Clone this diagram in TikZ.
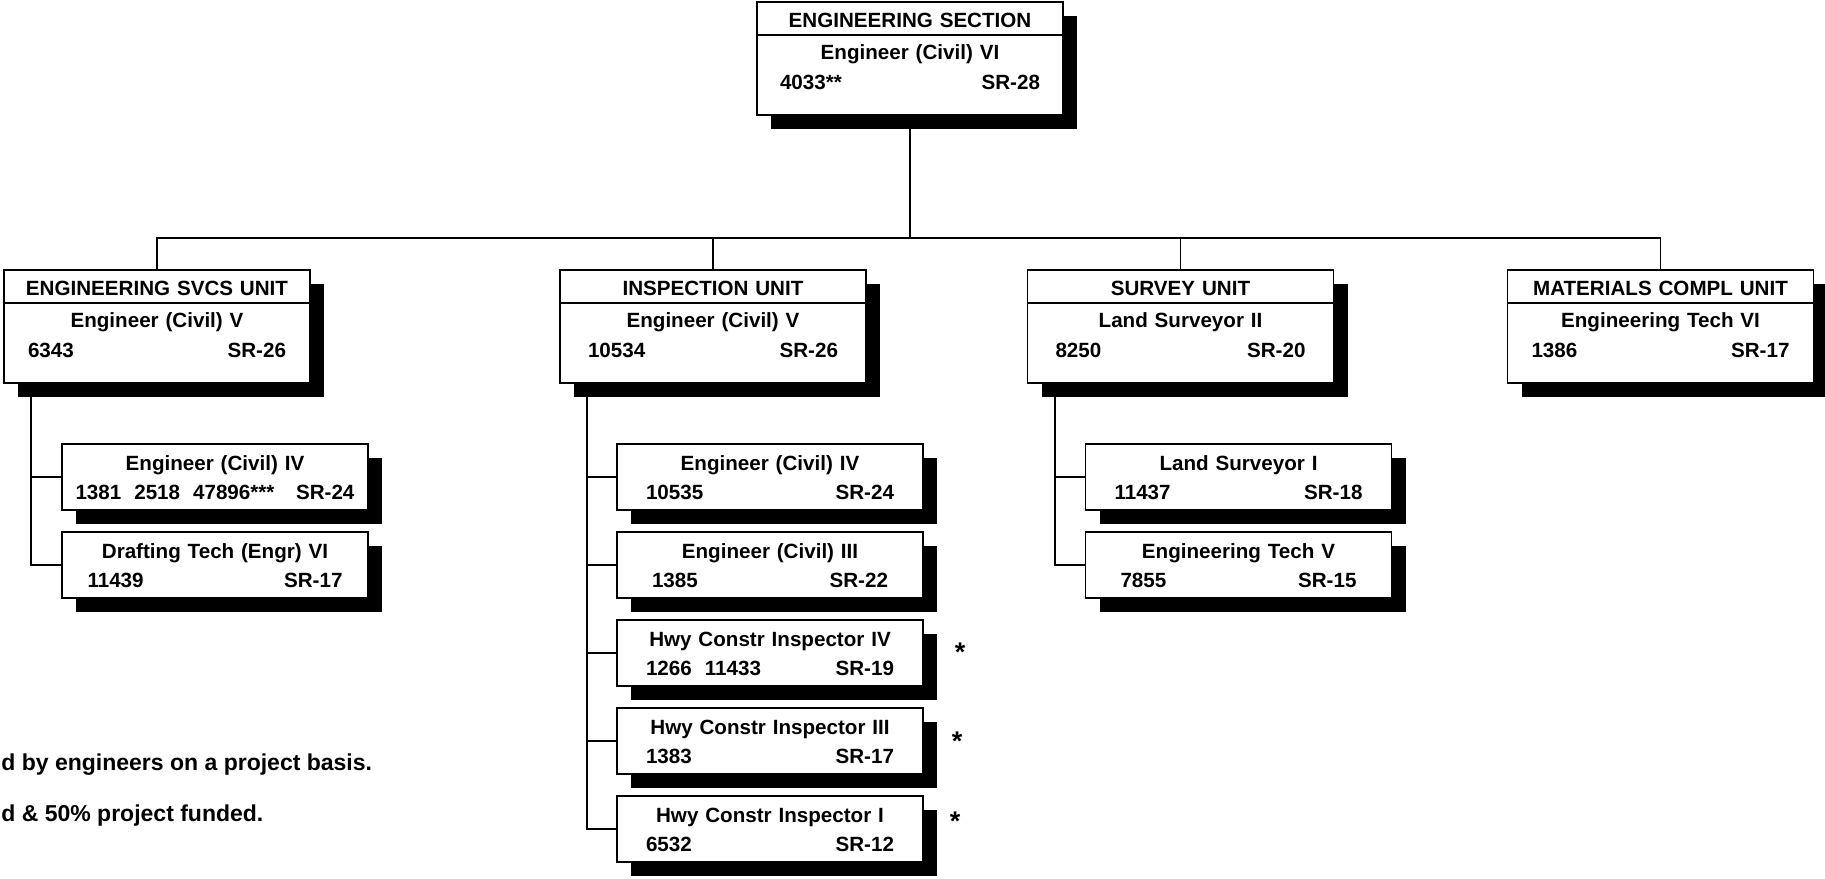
\documentclass[tikz,border=0pt]{standalone}
\usepackage{fontspec}
\setmainfont{Liberation Sans}
\usetikzlibrary{positioning,shadows}

% number line: position numbers left, grade right
\newcommand{\numline}[3][12pt]{\makebox[\linewidth]{\hspace*{#1}#2\hfill#3\hspace*{#1}}}

\begin{document}
\begin{tikzpicture}[
    x=0.5pt,
    y=-0.5pt,
    every node/.style={font=\bfseries\fontsize{10.3pt}{15pt}\selectfont},
    unitbox/.style={
        draw,
        fill=white,
        line width=0.9pt,
        anchor=north,
        inner sep=0pt,
        text width=153pt,
        align=center,
        text height=13pt,
        text depth=43.5pt,
        drop shadow={shadow xshift=7pt, shadow yshift=-7pt, fill=black, opacity=1}
    },
    posbox/.style={unitbox, text height=13.15pt, text depth=19.85pt},
    link/.style={line width=0.9pt},
    note/.style={anchor=base west, inner sep=0pt, font=\bfseries\fontsize{11.5pt}{13pt}\selectfont},
    star/.style={anchor=base, inner sep=0pt, font=\bfseries\fontsize{13.5pt}{16pt}\selectfont}
]
\useasboundingbox (0,0) rectangle (1825,878);

% section head
\node[unitbox] (sec) at (910,1)
    {ENGINEERING SECTION\\[1pt] Engineer (Civil) VI\\ \numline[11.5pt]{4033**}{SR-28}};

% units
\node[unitbox] (esu) at (157,269)
    {ENGINEERING SVCS UNIT\\[1pt] Engineer (Civil) V\\ \numline{6343}{SR-26}};
\node[unitbox] (insp) at (713,269)
    {INSPECTION UNIT\\[1pt] Engineer (Civil) V\\ \numline[14pt]{10534}{SR-26}};
\node[unitbox] (surv) at (1180.5,269)
    {SURVEY UNIT\\[1pt] Land Surveyor II\\ \numline[14pt]{8250}{SR-20}};
\node[unitbox] (mat) at (1660.5,269)
    {MATERIALS COMPL UNIT\\[1pt] Engineering Tech VI\\ \numline{1386}{SR-17}};

% engineering svcs positions
\node[posbox, below=29.6pt of esu, xshift=29pt] (esu1)
    {Engineer (Civil) IV\\[-0.5pt] \numline[6.75pt]{1381\hspace{6.5pt}2518\hspace{6.5pt}47896***}{SR-24}};
\node[posbox, below=10.1pt of esu1] (esu2)
    {Drafting Tech (Engr) VI\\[-0.5pt] \numline[12.75pt]{11439}{SR-17}};

% inspection positions
\node[posbox, below=29.6pt of insp, xshift=28.5pt] (insp1)
    {Engineer (Civil) IV\\[-0.5pt] \numline[14.5pt]{10535}{SR-24}};
\node[posbox, below=10.1pt of insp1] (insp2)
    {Engineer (Civil) III\\[-0.5pt] \numline[17.5pt]{1385}{SR-22}};
\node[posbox, below=10.1pt of insp2] (insp3)
    {Hwy Constr Inspector IV\\[-0.5pt] \numline[14.5pt]{1266\hspace{6.5pt}11433}{SR-19}};
\node[posbox, below=10.1pt of insp3] (insp4)
    {Hwy Constr Inspector III\\[-0.5pt] \numline[14.5pt]{1383}{SR-17}};
\node[posbox, below=10.1pt of insp4] (insp5)
    {Hwy Constr Inspector I\\[-0.5pt] \numline[14.5pt]{6532}{SR-12}};

% survey positions
\node[posbox, below=29.6pt of surv, xshift=29pt] (surv1)
    {Land Surveyor I\\[-0.5pt] \numline[14.5pt]{11437}{SR-18}};
\node[posbox, below=10.1pt of surv1] (surv2)
    {Engineering Tech V\\[-0.5pt] \numline[17.5pt]{7855}{SR-15}};

% header dividers
\foreach \u in {sec,esu,insp,surv,mat}
    \draw[link] ([yshift=-17pt]\u.north west) -- ([yshift=-17pt]\u.north east);

% connectors
\coordinate (bus) at (910,238);
\draw[link] (sec.south) -- (bus);
\draw[link] (esu.north) |- (bus) -| (mat.north);
\draw[link] (insp.north) -- (insp.north |- bus);
\draw[link] (surv.north) -- (surv.north |- bus);

\draw[link] ([xshift=14pt]esu.south west) |- (esu2.west);
\draw[link] ([xshift=14pt]esu.south west) |- (esu1.west);
\foreach \p in {1,...,5}
    \draw[link] ([xshift=14pt]insp.south west) |- (insp\p.west);
\draw[link] ([xshift=14pt]surv.south west) |- (surv2.west);
\draw[link] ([xshift=14pt]surv.south west) |- (surv1.west);

% project-funded marks
\node[star] (star3) at (960,661) {*};
\node[star] (star4) at (957,750) {*};
\node[star] (star5) at (955,830) {*};

% notes
\node[note] (note1) at (1,770) {d by engineers on a project basis.};
\node[note] (note2) at (1,821) {d \& 50\% project funded.};

\end{tikzpicture}
\end{document}
